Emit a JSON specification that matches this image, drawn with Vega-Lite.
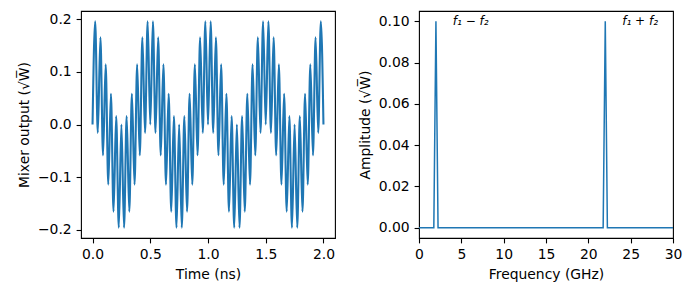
{
  "$schema": "https://vega.github.io/schema/vega-lite/v6.json",
  "padding": {"left": 17, "top": 10, "right": 5, "bottom": 5},
  "spacing": 22,
  "config": {
    "font": "DejaVu Sans",
    "view": {"stroke": "black", "strokeWidth": 1.1},
    "axis": {
      "grid": false, "domain": false,
      "tickColor": "black", "tickSize": 4.9, "tickWidth": 1.1,
      "labelPadding": 4.9, "labelFontSize": 13.9, "labelColor": "black",
      "titleFontSize": 13.9, "titleFontWeight": "normal", "titleColor": "black",
      "titlePadding": 5.6, "labelFlush": false, "labelOverlap": false
    }
  },
  "hconcat": [
    {
      "width": 254, "height": 227,
      "data": {"values": [
        {"t":0,"v":0},{"t":0.02273,"v":0.19595},{"t":0.04545,"v":-0.01587},{"t":0.06818,"v":0.16549},{"t":0.09091,"v":-0.05846},{"t":0.11364,"v":0.11423},{"t":0.13636,"v":-0.11423},{"t":0.15909,"v":0.05846},{"t":0.18182,"v":-0.16549},{"t":0.20455,"v":0.01587},{"t":0.22727,"v":-0.19595},{"t":0.25,"v":0},{"t":0.27273,"v":-0.19595},{"t":0.29545,"v":0.01587},{"t":0.31818,"v":-0.16549},{"t":0.34091,"v":0.05846},{"t":0.36364,"v":-0.11423},{"t":0.38636,"v":0.11423},{"t":0.40909,"v":-0.05846},{"t":0.43182,"v":0.16549},{"t":0.45455,"v":-0.01587},{"t":0.47727,"v":0.19595},
        {"t":0.5,"v":0},{"t":0.52273,"v":0.19595},{"t":0.54545,"v":-0.01587},{"t":0.56818,"v":0.16549},{"t":0.59091,"v":-0.05846},{"t":0.61364,"v":0.11423},{"t":0.63636,"v":-0.11423},{"t":0.65909,"v":0.05846},{"t":0.68182,"v":-0.16549},{"t":0.70455,"v":0.01587},{"t":0.72727,"v":-0.19595},{"t":0.75,"v":0},{"t":0.77273,"v":-0.19595},{"t":0.79545,"v":0.01587},{"t":0.81818,"v":-0.16549},{"t":0.84091,"v":0.05846},{"t":0.86364,"v":-0.11423},{"t":0.88636,"v":0.11423},{"t":0.90909,"v":-0.05846},{"t":0.93182,"v":0.16549},{"t":0.95455,"v":-0.01587},{"t":0.97727,"v":0.19595},
        {"t":1.0,"v":0},{"t":1.02273,"v":0.19595},{"t":1.04545,"v":-0.01587},{"t":1.06818,"v":0.16549},{"t":1.09091,"v":-0.05846},{"t":1.11364,"v":0.11423},{"t":1.13636,"v":-0.11423},{"t":1.15909,"v":0.05846},{"t":1.18182,"v":-0.16549},{"t":1.20455,"v":0.01587},{"t":1.22727,"v":-0.19595},{"t":1.25,"v":0},{"t":1.27273,"v":-0.19595},{"t":1.29545,"v":0.01587},{"t":1.31818,"v":-0.16549},{"t":1.34091,"v":0.05846},{"t":1.36364,"v":-0.11423},{"t":1.38636,"v":0.11423},{"t":1.40909,"v":-0.05846},{"t":1.43182,"v":0.16549},{"t":1.45455,"v":-0.01587},{"t":1.47727,"v":0.19595},
        {"t":1.5,"v":0},{"t":1.52273,"v":0.19595},{"t":1.54545,"v":-0.01587},{"t":1.56818,"v":0.16549},{"t":1.59091,"v":-0.05846},{"t":1.61364,"v":0.11423},{"t":1.63636,"v":-0.11423},{"t":1.65909,"v":0.05846},{"t":1.68182,"v":-0.16549},{"t":1.70455,"v":0.01587},{"t":1.72727,"v":-0.19595},{"t":1.75,"v":0},{"t":1.77273,"v":-0.19595},{"t":1.79545,"v":0.01587},{"t":1.81818,"v":-0.16549},{"t":1.84091,"v":0.05846},{"t":1.86364,"v":-0.11423},{"t":1.88636,"v":0.11423},{"t":1.90909,"v":-0.05846},{"t":1.93182,"v":0.16549},{"t":1.95455,"v":-0.01587},{"t":1.97727,"v":0.19595},
        {"t":2.0,"v":0}
      ]},
      "mark": {"type": "line", "interpolate": "monotone", "color": "#1f77b4", "strokeWidth": 2.08, "clip": true},
      "encoding": {
        "x": {"field": "t", "type": "quantitative", "scale": {"domain": [-0.1, 2.1], "nice": false, "zero": false},
              "axis": {"title": "Time (ns)", "values": [0, 0.5, 1, 1.5, 2], "format": ".1f"}},
        "y": {"field": "v", "type": "quantitative", "scale": {"domain": [-0.2155, 0.2155], "nice": false, "zero": false},
              "axis": {"title": "Mixer output (√W\u0305)", "values": [-0.2, -0.1, 0, 0.1, 0.2], "format": ".1f"}}
      }
    },
    {
      "width": 254, "height": 227,
      "layer": [
        {
          "data": {"values": [
            {"f":0,"a":0},{"f":1.75,"a":0},{"f":2,"a":0.1},{"f":2.25,"a":0},{"f":21.75,"a":0},{"f":22,"a":0.1},{"f":22.25,"a":0},{"f":30,"a":0}
          ]},
          "mark": {"type": "line", "color": "#1f77b4", "strokeWidth": 1.5, "clip": true},
          "encoding": {
            "x": {"field": "f", "type": "quantitative", "scale": {"domain": [0, 30], "nice": false, "zero": false},
                  "axis": {"title": "Frequency (GHz)", "values": [0, 5, 10, 15, 20, 25, 30], "format": "d"}},
            "y": {"field": "a", "type": "quantitative", "scale": {"domain": [-0.005, 0.105], "nice": false, "zero": false},
                  "axis": {"title": "Amplitude (√W\u0305)", "values": [0, 0.02, 0.04, 0.06, 0.08, 0.1], "format": ".2f"}}
          }
        },
        {
          "data": {"values": [
            {"f": 4, "a": 0.1, "label": "f₁ − f₂"},
            {"f": 24, "a": 0.1, "label": "f₁ + f₂"}
          ]},
          "mark": {"type": "text", "align": "left", "baseline": "middle", "fontSize": 12, "fontStyle": "italic", "color": "black"},
          "encoding": {
            "x": {"field": "f", "type": "quantitative"},
            "y": {"field": "a", "type": "quantitative"},
            "text": {"field": "label"}
          }
        }
      ]
    }
  ]
}
